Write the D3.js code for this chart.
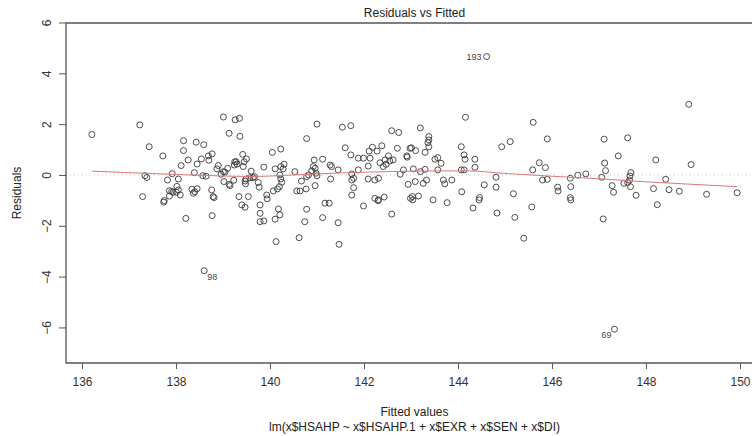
<!DOCTYPE html>
<html><head><meta charset="utf-8">
<script src="https://cdn.jsdelivr.net/npm/d3@7"></script>
<style>body{margin:0;background:#fff}svg{display:block}text{font-family:"Liberation Sans",Arial,sans-serif}</style>
</head><body><svg id="c" width="752" height="436"></svg>
<script>
const fitted = [136.21,137.23,137.43,137.34,137.38,137.72,138.16,138.16,138.43,138.59,138.26,138.11,137.92,137.82,138.05,138.39,138.45,138.54,138.57,138.64,138.69,138.77,138.70,139.01,139.26,139.35,139.13,139.36,138.90,138.96,139.04,139.10,139.02,139.13,139.25,139.30,139.42,139.50,139.43,139.60,139.23,139.49,139.48,139.67,139.75,139.77,
137.86,137.91,137.94,138.05,138.02,138.34,138.40,138.45,138.76,137.29,137.86,138.09,138.37,138.79,139.34,139.54,
137.75,138.21,138.77,138.60,139.40,139.47,139.79,139.79,139.79,137.74,138.01,
140.05,140.23,139.45,139.28,139.24,139.87,140.11,140.23,140.30,140.28,138.87,139.01,139.57,139.64,140.53,140.21,140.23,140.25,139.47,
138.81,139.15,139.93,139.94,140.07,140.16,140.20,139.87,140.18,140.21,140.11,140.13,140.62,140.57,
140.78,140.74,141.12,141.17,141.26,141.45,141.47,141.99,142.30,142.59,143.04,143.47,143.77,144.45,
140.78,141.00,141.54,141.72,142.59,142.74,141.60,141.72,141.88,141.99,142.13,142.11,142.18,142.38,142.28,142.71,142.52,142.45,142.55,142.62,142.91,142.98,142.34,142.41,142.47,140.94,141.12,140.92,140.96,140.89,140.98,141.28,141.31,141.45,142.09,141.88,141.74,141.78,140.82,140.78,141.00,140.67,141.29,141.74,142.09,142.23,142.31,142.77,142.84,
140.64,140.77,140.96,141.78,141.74,142.23,142.31,142.43,142.99,
144.61,144.16,143.20,143.38,143.38,143.36,143.38,143.01,143.10,142.92,143.30,143.51,143.57,143.64,144.07,144.13,144.15,144.36,144.36,144.93,145.11,144.07,144.13,143.05,143.20,143.30,143.57,144.08,144.46,144.56,144.81,144.81,142.94,143.09,143.26,143.33,143.69,143.72,143.87,143.16,143.03,
148.91,145.60,145.90,147.11,147.61,147.41,145.73,145.86,145.59,145.80,145.90,147.12,147.14,147.06,148.21,148.96,146.39,146.55,146.72,147.68,147.66,147.65,147.61,147.53,148.42,145.18,146.12,146.13,146.40,146.39,147.28,147.31,147.67,147.79,148.16,148.49,148.71,149.29,149.94,
145.21,145.40,145.57,146.40,147.09,148.24,147.33,144.32,144.83];
const residuals = [1.59,1.97,1.11,-0.03,-0.10,0.75,1.35,0.96,1.29,1.19,0.59,0.37,0.05,-0.20,-0.16,0.09,0.43,0.63,-0.03,-0.05,0.75,0.83,0.58,2.28,2.17,2.23,1.64,1.52,0.37,0.03,0.11,0.26,-0.26,-0.37,0.52,0.43,0.81,0.63,0.33,0.15,-0.21,-0.16,-0.35,-0.07,-0.30,-0.48,
-0.62,-0.65,-0.68,-0.59,-0.45,-0.56,-0.66,-0.54,-0.59,-0.85,-0.83,-0.79,-0.72,-0.85,-0.85,-0.85,
-1.01,-1.71,-1.60,-3.77,-1.18,-1.27,-1.18,-1.51,-1.84,-1.07,-0.68,
0.89,1.02,0.52,0.52,0.39,0.31,0.24,0.33,0.42,0.24,0.24,0.13,-0.11,-0.11,0.13,0.00,-0.16,-0.29,-0.24,
-0.89,-0.42,-0.79,-0.94,-0.63,-0.55,-0.46,-1.81,-1.34,-1.57,-1.74,-2.62,-2.47,-0.63,
-1.35,-1.84,-1.68,-1.11,-1.11,-1.88,-2.73,-1.22,-1.01,-1.54,-0.98,-0.98,-1.09,-0.98,
1.43,2.00,1.88,1.94,1.74,1.67,1.07,0.79,0.66,0.66,0.66,0.94,1.09,1.15,0.94,1.05,0.75,0.59,0.55,0.59,0.75,1.05,0.48,0.33,0.42,0.59,0.62,0.33,0.26,0.16,0.07,0.39,0.33,0.20,0.35,0.20,0.04,-0.13,0.00,-0.07,-0.03,-0.24,-0.16,-0.20,-0.16,-0.20,-0.13,0.03,0.20,
-0.63,-0.55,-0.42,-0.50,-0.79,-0.92,-0.98,-0.87,-0.92,
4.66,2.27,1.85,1.51,1.38,1.27,1.11,1.07,0.96,0.70,0.89,0.62,0.68,0.46,1.11,0.79,0.62,0.62,0.30,1.11,1.31,0.20,0.20,0.24,0.13,0.22,0.20,-0.66,-0.89,-0.39,-0.09,-0.48,-0.37,-0.26,-0.33,-0.20,-0.20,-0.35,-0.20,-0.83,-0.85,
2.78,2.07,1.42,1.41,1.46,0.75,0.48,0.29,0.20,-0.20,-0.17,0.47,0.17,-0.09,0.59,0.41,-0.13,-0.01,0.04,0.09,-0.04,-0.20,-0.30,-0.33,-0.17,-0.74,-0.48,-0.63,-0.46,-0.89,-0.42,-0.68,-0.46,-0.80,-0.54,-0.58,-0.64,-0.76,-0.70,
-1.67,-2.49,-1.26,-0.98,-1.73,-1.17,-6.07,-1.30,-1.50];
const smoothX = [136.21,137,138,139,139.6,140.5,141.5,142.5,143.5,144.2,145,146,147,148,149,149.94];
const smoothY = [0.15,0.09,0.02,-0.04,-0.06,0.0,0.08,0.13,0.16,0.16,0.06,-0.05,-0.15,-0.27,-0.37,-0.46];
const idLabels = ["193","98","69"];
const idIndex = [fitted.indexOf(144.61), fitted.indexOf(138.60), fitted.indexOf(147.33)];
const xTicks = [136,138,140,142,144,146,148,150];
const yTicks = [-6,-4,-2,0,2,4,6];

const svg = d3.select("#c");
const L=66, R=763, T=23, B=363;
const x = d3.scaleLinear().domain([135.66,150.49]).range([L,R]);
const y = d3.scaleLinear().domain([-7.4,5.98]).range([B,T]);
const axisCol="#555";

svg.append("line").attr("x1",L).attr("x2",R).attr("y1",y(0)).attr("y2",y(0))
  .attr("stroke","#c8c8c8").attr("stroke-dasharray","1,3");

svg.append("g").selectAll("circle").data(fitted).join("circle")
  .attr("cx",d=>x(d)).attr("cy",(d,i)=>y(residuals[i])).attr("r",3)
  .attr("fill","none").attr("stroke","#3a3a3a").attr("stroke-width",0.9);

svg.append("path").datum(smoothX.map((d,i)=>[d,smoothY[i]]))
  .attr("d",d3.line().x(d=>x(d[0])).y(d=>y(d[1])).curve(d3.curveMonotoneX))
  .attr("fill","none").attr("stroke","#d9787c").attr("stroke-width",1);

const lab = svg.append("g").attr("font-size",9).attr("fill","#444");
lab.append("text").attr("x",x(fitted[idIndex[0]])-5).attr("y",y(residuals[idIndex[0]])+3).attr("text-anchor","end").text(idLabels[0]);
lab.append("text").attr("x",x(fitted[idIndex[1]])+3).attr("y",y(residuals[idIndex[1]])+9).attr("text-anchor","start").text(idLabels[1]);
lab.append("text").attr("x",x(fitted[idIndex[2]])-3).attr("y",y(residuals[idIndex[2]])+9).attr("text-anchor","end").text(idLabels[2]);

svg.append("path").attr("d",`M${R},${T}H${L}V${B}H${R}`).attr("fill","none").attr("stroke",axisCol).attr("stroke-width",1.3);

const xa = svg.append("g").attr("transform",`translate(0,${B})`)
  .call(d3.axisBottom(x).tickValues(xTicks).tickSize(6).tickPadding(8).tickFormat(d3.format("d")));
xa.select(".domain").remove();
xa.selectAll("line").attr("stroke",axisCol);
xa.selectAll("text").attr("font-size",12).attr("fill","#333").attr("font-family","Liberation Sans, Arial, sans-serif");

const ya = svg.append("g").attr("transform",`translate(${L},0)`)
  .call(d3.axisLeft(y).tickValues(yTicks).tickSize(7).tickFormat(d3.format("d")));
ya.select(".domain").remove();
ya.selectAll("line").attr("stroke",axisCol);
ya.selectAll("text").attr("font-size",12).attr("fill","#333").attr("font-family","Liberation Sans, Arial, sans-serif")
  .each(function(d){d3.select(this).attr("x",null).attr("dy",null).attr("text-anchor","middle")
     .attr("transform",`translate(-19,0) rotate(-90)`).attr("y",4);});

const cx=(L+R)/2;
svg.append("text").attr("x",cx).attr("y",17).attr("text-anchor","middle").attr("font-size",12).attr("fill","#222").text("Residuals vs Fitted");
svg.append("text").attr("x",cx).attr("y",416).attr("text-anchor","middle").attr("font-size",12).attr("fill","#222").text("Fitted values");
svg.append("text").attr("x",cx).attr("y",431).attr("text-anchor","middle").attr("font-size",12).attr("fill","#222").text("lm(x$HSAHP ~ x$HSAHP.1 + x$EXR + x$SEN + x$DI)");
svg.append("text").attr("transform",`translate(21,${(T+B)/2}) rotate(-90)`).attr("text-anchor","middle").attr("font-size",12).attr("fill","#222").text("Residuals");
</script></body></html>
